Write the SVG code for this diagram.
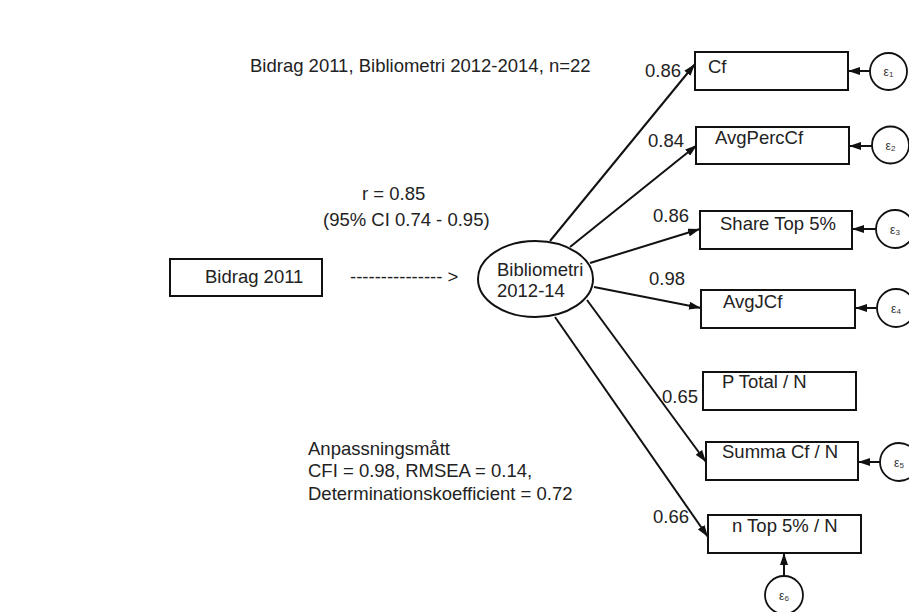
<svg xmlns="http://www.w3.org/2000/svg" width="909" height="612" viewBox="0 0 909 612">
<style>
text{font-family:"Liberation Sans",Arial,sans-serif;font-size:18.5px;fill:#222}
.box{fill:#fff;stroke:#111;stroke-width:2}
.err{fill:#fff;stroke:#111;stroke-width:1.8}
.e{font-size:12px;text-anchor:middle;fill:#333}
.sub{font-size:8px}
.ln{stroke:#111;stroke-width:2;fill:none;marker-end:url(#ah)}
</style>
<defs>
<marker id="ah" viewBox="0 0 12 8" refX="12" refY="4" markerWidth="12" markerHeight="8" markerUnits="userSpaceOnUse" orient="auto">
<path d="M0,0 L12,4 L0,8 z" fill="#111"/>
</marker>
</defs>
<rect width="909" height="612" fill="#fff"/>
<g id="labels">
<text x="250" y="72">Bidrag 2011, Bibliometri 2012-2014, n=22</text>
<text x="362" y="200">r = 0.85</text>
<text x="323" y="226">(95% CI 0.74 - 0.95)</text>
<text x="350" y="283">--------------- &gt;</text>
<text x="308" y="455">Anpassningsmått</text>
<text x="308" y="477">CFI = 0.98, RMSEA = 0.14,</text>
<text x="308" y="500">Determinationskoefficient = 0.72</text>
</g>
<g id="connectors">
<line class="ln" x1="550" y1="241" x2="695" y2="64"/>
<line class="ln" x1="570" y1="247" x2="697" y2="145"/>
<line class="ln" x1="590" y1="263" x2="700" y2="229"/>
<line class="ln" x1="594" y1="287" x2="701" y2="308"/>
<line class="ln" x1="587" y1="300" x2="706" y2="462"/>
<line class="ln" x1="555" y1="317" x2="708" y2="537"/>
<line class="ln" x1="870" y1="71" x2="848" y2="71"/>
<line class="ln" x1="872" y1="146" x2="849" y2="146"/>
<line class="ln" x1="876" y1="229" x2="852" y2="229"/>
<line class="ln" x1="877" y1="308" x2="855" y2="308"/>
<line class="ln" x1="880" y1="462" x2="858" y2="462"/>
<line class="ln" x1="784" y1="576" x2="784" y2="553"/>
<text x="645" y="77">0.86</text>
<text x="648" y="147">0.84</text>
<text x="653" y="222">0.86</text>
<text x="649" y="285">0.98</text>
<text x="662" y="403">0.65</text>
<text x="653" y="523">0.66</text>
</g>
<g id="bidrag">
<rect class="box" x="170" y="259" width="152" height="37"/>
<text x="205" y="283">Bidrag 2011</text>
</g>
<g id="bibliometri">
<ellipse class="box" cx="535.5" cy="279" rx="57.5" ry="38"/>
<text x="497" y="276">Bibliometri</text>
<text x="497" y="297">2012-14</text>
</g>
<g id="cf">
<rect class="box" x="695" y="52" width="153" height="38"/>
<text x="708" y="73">Cf</text>
</g>
<g id="avgperccf">
<rect class="box" x="696" y="127" width="153" height="37"/>
<text x="715" y="144">AvgPercCf</text>
</g>
<g id="sharetop">
<rect class="box" x="700" y="211" width="152" height="38"/>
<text x="720" y="230">Share Top 5%</text>
</g>
<g id="avgjcf">
<rect class="box" x="701" y="290" width="154" height="38"/>
<text x="723" y="308">AvgJCf</text>
</g>
<g id="ptotal">
<rect class="box" x="703" y="372" width="153" height="38"/>
<text x="722" y="388">P Total / N</text>
</g>
<g id="summacf">
<rect class="box" x="706" y="442" width="152" height="38"/>
<text x="722" y="458">Summa Cf / N</text>
</g>
<g id="ntop">
<rect class="box" x="708" y="515" width="153" height="38"/>
<text x="732" y="532">n Top 5% / N</text>
</g>
<g id="e1">
<circle class="err" cx="888.5" cy="71.5" r="18.5"/>
<text class="e" x="888.5" y="76">ε<tspan class="sub" dy="1">1</tspan></text>
</g>
<g id="e2">
<circle class="err" cx="890.5" cy="145" r="18.5"/>
<text class="e" x="890.5" y="150">ε<tspan class="sub" dy="1">2</tspan></text>
</g>
<g id="e3">
<circle class="err" cx="895" cy="229" r="19"/>
<text class="e" x="895" y="234">ε<tspan class="sub" dy="1">3</tspan></text>
</g>
<g id="e4">
<circle class="err" cx="896" cy="308" r="19"/>
<text class="e" x="896" y="313">ε<tspan class="sub" dy="1">4</tspan></text>
</g>
<g id="e5">
<circle class="err" cx="899" cy="462" r="19"/>
<text class="e" x="899" y="467">ε<tspan class="sub" dy="1">5</tspan></text>
</g>
<g id="e6">
<circle class="err" cx="784" cy="595" r="19"/>
<text class="e" x="784" y="600">ε<tspan class="sub" dy="1">6</tspan></text>
</g>
</svg>
